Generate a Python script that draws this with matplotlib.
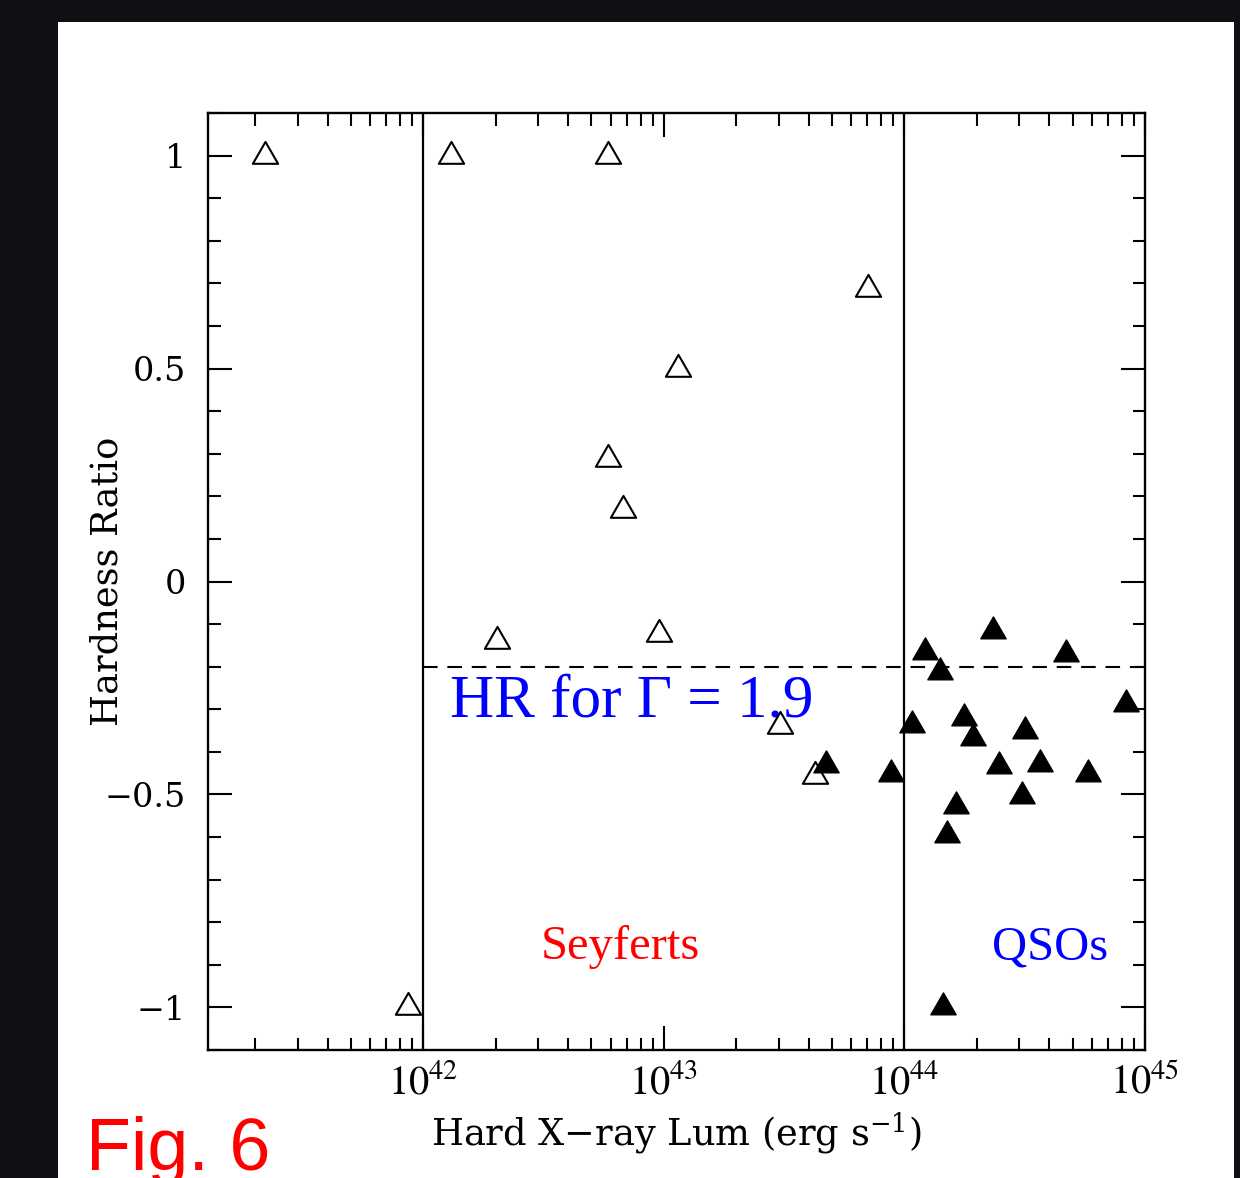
import matplotlib
matplotlib.use("Agg")
import matplotlib.pyplot as plt
from matplotlib.patches import Rectangle
from matplotlib.path import Path
from matplotlib.ticker import MultipleLocator, LogLocator, NullFormatter

# Seyferts (open triangles)
sey_lum = [2.20e41, 1.30e42, 5.85e42, 7.03e43, 1.15e43, 5.85e42,
           6.75e42, 2.02e42, 9.50e42, 3.03e43, 4.24e43, 8.63e41]
sey_hr = [1.0, 1.0, 1.0, 0.687, 0.50, 0.288,
          0.168, -0.14, -0.123, -0.339, -0.457, -1.0]

# QSOs (filled triangles)
qso_lum = [2.34e44, 1.22e44, 4.71e44, 1.40e44, 8.36e44, 1.08e44,
           1.77e44, 1.92e44, 3.16e44, 2.48e44, 3.67e44, 5.81e44,
           8.83e43, 3.09e44, 1.64e44, 1.51e44, 4.74e43, 1.44e44]
qso_hr = [-0.116, -0.165, -0.170, -0.212, -0.288, -0.337,
          -0.320, -0.367, -0.351, -0.433, -0.428, -0.452,
          -0.452, -0.504, -0.527, -0.595, -0.431, -1.0]

boundaries = [1e42, 1e44]
hr_gamma19 = -0.2

xticks = [1e42, 1e43, 1e44, 1e45]
xtick_labels = [r"$10^{42}$", r"$10^{43}$", r"$10^{44}$", r"$10^{45}$"]
yticks = [-1, -0.5, 0, 0.5, 1]
ytick_labels = ["\u22121", "\u22120.5", "0", "0.5", "1"]

fig = plt.figure(figsize=(12.4, 11.78), dpi=100, facecolor="#0e1014")
fig.patches.append(Rectangle((58 / 1240, 0), 1176 / 1240, 1 - 22 / 1178,
                             transform=fig.transFigure, facecolor="white",
                             edgecolor="none", zorder=-10))

ax = fig.add_axes([208 / 1240, 1 - 1050 / 1178, 937 / 1240, 937 / 1178])
ax.set_facecolor("white")

# equilateral triangle, centred on its centroid
tri = Path([(0, 0.577), (-0.5, -0.289), (0.5, -0.289), (0, 0.577)], closed=True)

ax.axvline(boundaries[0], color="black", lw=1.6, zorder=1)
ax.axvline(boundaries[1], color="black", lw=1.6, zorder=1)
ax.hlines(hr_gamma19, boundaries[0], 1e45, colors="black", lw=1.5,
          linestyles=(0, (7, 4.7)), zorder=1)

ax.plot(sey_lum, sey_hr, linestyle="none", marker=tri, markersize=21,
        markerfacecolor="white", markeredgecolor="black", markeredgewidth=1.5, zorder=3)
ax.plot(qso_lum, qso_hr, linestyle="none", marker=tri, markersize=21,
        markerfacecolor="black", markeredgecolor="black", markeredgewidth=1.0, zorder=4)

ax.set_xscale("log")
ax.set_xlim(10 ** 41.105, 1e45)
ax.set_ylim(-1.1, 1.1)

ax.set_xticks(xticks)
ax.set_xticklabels(xtick_labels)
ax.xaxis.set_minor_locator(LogLocator(base=10, subs=range(2, 10)))
ax.xaxis.set_minor_formatter(NullFormatter())
ax.set_yticks(yticks)
ax.set_yticklabels(ytick_labels)
ax.yaxis.set_minor_locator(MultipleLocator(0.1))

ax.tick_params(which="both", direction="in", top=True, right=True, width=1.5)
ax.tick_params(which="major", length=17)
ax.tick_params(which="minor", length=9)
ax.tick_params(axis="y", pad=16, labelsize=24)
ax.tick_params(axis="x", pad=9, labelsize=29)
for lab in ax.get_yticklabels():
    lab.set_fontfamily("DejaVu Serif")
for lab in ax.get_xticklabels():
    lab.set_math_fontfamily("stix")
for sp in ax.spines.values():
    sp.set_linewidth(1.7)

ax.set_xlabel("Hard X\u2212ray Lum (erg s$^{-1}$)",
              fontsize=26.5, fontfamily="DejaVu Serif", math_fontfamily="dejavuserif")
ax.xaxis.label.set_va("baseline")
ax.xaxis.set_label_coords(0.5, -0.101)
ax.set_ylabel("Hardness Ratio", fontsize=26.5, fontfamily="DejaVu Serif")
ax.yaxis.label.set_va("baseline")
ax.yaxis.set_label_coords(-0.097, 0.5)

ax.text(10 ** 42.11, -0.317, "HR for \u0393 = 1.9", color="#0000ff", fontsize=44,
        fontfamily="Liberation Serif", va="baseline", ha="left", zorder=2)
ax.text(10 ** 42.488, -0.887, "Seyferts", color="#ff0000", fontsize=35,
        fontfamily="Liberation Serif", va="baseline", ha="left")
ax.text(10 ** 44.366, -0.887, "QSOs", color="#0000ff", fontsize=35,
        fontfamily="Liberation Serif", va="baseline", ha="left")

fig.text(86 / 1240, 1 - 1170 / 1178, "Fig. 6", color="#ff0000", fontsize=53,
         fontfamily="Liberation Sans", va="baseline", ha="left")

fig.savefig("out.png", dpi=100, facecolor=fig.get_facecolor())
